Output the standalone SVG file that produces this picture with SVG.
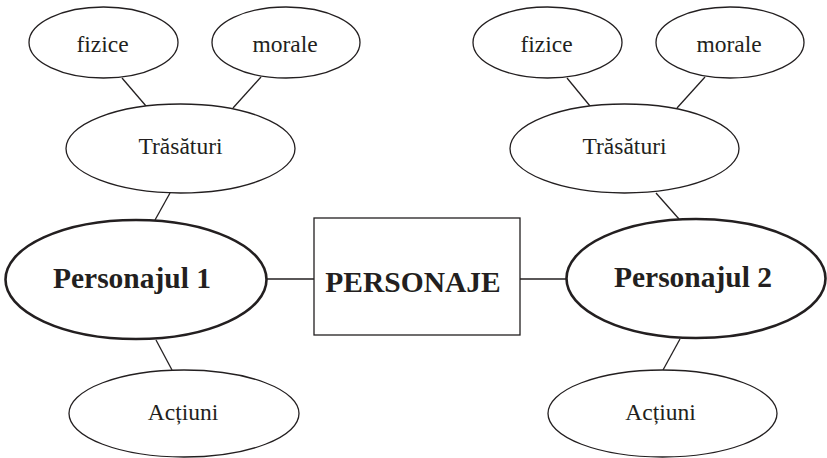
<svg xmlns="http://www.w3.org/2000/svg" width="827" height="458" viewBox="0 0 827 458">
<style>
.e{fill:#fff;stroke:#231f20;stroke-width:1.3}
.b{fill:#fff;stroke:#231f20;stroke-width:2.6}
.c line{stroke:#231f20;stroke-width:1.3}
text{font-family:"Liberation Serif","Times New Roman",serif;fill:#231f20;text-anchor:middle}
.t{font-size:23.5px}
.h{font-size:29.5px;font-weight:bold}
</style>
<rect width="827" height="458" fill="#fff"/>
<g class="c" id="connectors">
<line x1="122" y1="78" x2="146" y2="106"/>
<line x1="261" y1="77" x2="233" y2="108"/>
<line x1="170" y1="193" x2="155" y2="220"/>
<line x1="267" y1="279" x2="314" y2="279"/>
<line x1="156" y1="340" x2="172" y2="370"/>
<line x1="567" y1="78" x2="590" y2="106"/>
<line x1="705" y1="77" x2="677" y2="108"/>
<line x1="656" y1="193" x2="679" y2="219"/>
<line x1="520" y1="279" x2="566" y2="279"/>
<line x1="680" y1="339" x2="663" y2="370"/>
</g>
<g id="fizice1"><ellipse class="e" cx="103.5" cy="42.5" rx="74.5" ry="35.5"/><text class="t" x="102.5" y="52">fizice</text></g>
<g id="morale1"><ellipse class="e" cx="286" cy="42.5" rx="74" ry="35.5"/><text class="t" x="285" y="52">morale</text></g>
<g id="trasaturi1"><ellipse class="e" cx="180.5" cy="148.5" rx="114.5" ry="44.5"/><text class="t" x="180.5" y="154">Trăsături</text></g>
<g id="personajul1"><ellipse class="b" cx="136" cy="279.5" rx="130.5" ry="59.5"/><text class="h" x="132" y="288">Personajul 1</text></g>
<g id="actiuni1"><ellipse class="e" cx="184" cy="413.5" rx="115" ry="43.5"/><text class="t" x="183" y="420">Acțiuni</text></g>
<g id="personaje"><rect x="314" y="218" width="206" height="117" fill="#fff" stroke="#231f20" stroke-width="1.3"/><text class="h" x="413" y="292">PERSONAJE</text></g>
<g id="fizice2"><ellipse class="e" cx="547.5" cy="42.5" rx="74.5" ry="35.5"/><text class="t" x="546.5" y="52">fizice</text></g>
<g id="morale2"><ellipse class="e" cx="730" cy="42.5" rx="74" ry="35.5"/><text class="t" x="729" y="52">morale</text></g>
<g id="trasaturi2"><ellipse class="e" cx="624.5" cy="148.5" rx="114.5" ry="44.5"/><text class="t" x="624.5" y="154">Trăsături</text></g>
<g id="personajul2"><ellipse class="b" cx="696" cy="278.5" rx="129.5" ry="59.5"/><text class="h" x="693" y="287">Personajul 2</text></g>
<g id="actiuni2"><ellipse class="e" cx="662.5" cy="413.5" rx="114.5" ry="43.5"/><text class="t" x="660.5" y="420">Acțiuni</text></g>
</svg>
